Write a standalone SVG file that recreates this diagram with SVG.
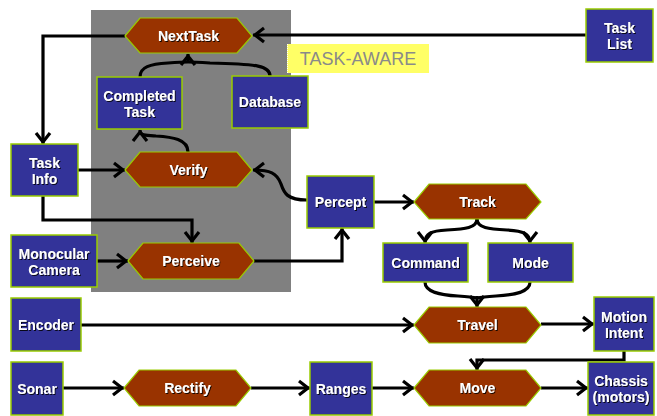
<svg xmlns="http://www.w3.org/2000/svg" width="657" height="416" viewBox="0 0 657 416">
<defs>
<style>
.box{fill:#333399;stroke:#99CC00;stroke-width:1.5}
.hex{fill:#993300;stroke:#99CC00;stroke-width:1.2}
.t{font-family:"Liberation Sans",Arial,sans-serif;font-weight:bold;font-size:14px;fill:#fff;text-anchor:middle;filter:url(#sh)}
.c{fill:none;stroke:#000;stroke-width:3.2}
</style>
<filter id="sh" x="-10%" y="-20%" width="130%" height="150%">
<feDropShadow dx="1" dy="1" stdDeviation="0.3" flood-color="#000" flood-opacity="0.85"/>
</filter>
<marker id="ar" viewBox="-14 -9 16 18" markerWidth="16" markerHeight="18" refX="0" refY="0" orient="auto" markerUnits="userSpaceOnUse">
<path d="M-11,-7 L-2,0 L-11,7" fill="none" stroke="#000" stroke-width="3.2"/>
</marker>
</defs>
<rect width="657" height="416" fill="#fff"/>
<rect id="task-aware-region" x="91" y="10" width="200" height="282" fill="#808080"/>
<g id="task-aware-label">
<rect x="287" y="44" width="142" height="29" fill="#FFFF66"/>
<line x1="287.5" y1="44" x2="287.5" y2="73" stroke="#fff" stroke-width="1" stroke-dasharray="1,1"/>
<text x="358" y="65" font-family="Liberation Sans,Arial,sans-serif" font-size="18" fill="#8a8a8a" text-anchor="middle">TASK-AWARE</text>
</g>
<g id="connectors">
<path class="c" d="M586,35 L253,35" marker-end="url(#ar)"/>
<path class="c" d="M125,36 L43,36 L43,144" marker-end="url(#ar)"/>
<path class="c" d="M140,77 C140,67 150,64 168,63 C182,62 188,62 188,62"/>
<path class="c" d="M270,76 C270,66 258,64 210,63 C194,62 188,62 188,62"/>
<path class="c" d="M188,63 L188,54" marker-end="url(#ar)"/>
<path class="c" d="M188,152 C188,139 172,137 156,136 C145,135 140,136 140,130" marker-end="url(#ar)"/>
<path class="c" d="M78,170 L125,170" marker-end="url(#ar)"/>
<path class="c" d="M43,196 L43,220 L192,220 L192,243" marker-end="url(#ar)"/>
<path class="c" d="M97,261 L128,261" marker-end="url(#ar)"/>
<path class="c" d="M254,261 L342,261 L342,228" marker-end="url(#ar)"/>
<path class="c" d="M307,200 C287,200 284,193 281,184 C277,173 270,170 253,170" marker-end="url(#ar)"/>
<path class="c" d="M374,202 L414,202" marker-end="url(#ar)"/>
<path class="c" d="M477,219 C477,228 465,229 447,230 C431,231 425,233 425,243" marker-end="url(#ar)"/>
<path class="c" d="M477,219 C477,228 489,229 507,230 C523,231 530,233 530,243" marker-end="url(#ar)"/>
<path class="c" d="M425,282 C425,292 440,295 458,296 C472,297 477,298 477,298"/>
<path class="c" d="M530,282 C530,292 515,295 496,296 C482,297 477,298 477,298"/>
<path class="c" d="M477,296 L477,307" marker-end="url(#ar)"/>
<path class="c" d="M81,325 L414,325" marker-end="url(#ar)"/>
<path class="c" d="M541,324 L594,324" marker-end="url(#ar)"/>
<path class="c" d="M624,351 L624,360 L477,360 L477,370" marker-end="url(#ar)"/>
<path class="c" d="M63,388 L124,388" marker-end="url(#ar)"/>
<path class="c" d="M251,388 L310,388" marker-end="url(#ar)"/>
<path class="c" d="M372,388 L414,388" marker-end="url(#ar)"/>
<path class="c" d="M541,388 L588,388" marker-end="url(#ar)"/>
</g>
<g id="nexttask"><polygon class="hex" points="125,36 140,18 237,18 252,36 237,53 140,53"/><text class="t" x="188.5" y="41">NextTask</text></g>
<g id="completed-task"><rect class="box" x="97" y="77" width="85" height="52"/><text class="t" x="139.5" y="101">Completed</text><text class="t" x="139.5" y="117">Task</text></g>
<g id="database"><rect class="box" x="232" y="76" width="76" height="52"/><text class="t" x="270" y="107">Database</text></g>
<g id="task-list"><rect class="box" x="586" y="9" width="67" height="53"/><text class="t" x="619.5" y="33">Task</text><text class="t" x="619.5" y="49">List</text></g>
<g id="task-info"><rect class="box" x="11" y="144" width="67" height="52"/><text class="t" x="44.5" y="168">Task</text><text class="t" x="44.5" y="184">Info</text></g>
<g id="verify"><polygon class="hex" points="125,170 140,152 237,152 252,170 237,187 140,187"/><text class="t" x="188.5" y="175">Verify</text></g>
<g id="monocular-camera"><rect class="box" x="11" y="235" width="86" height="52"/><text class="t" x="54" y="259">Monocular</text><text class="t" x="54" y="275">Camera</text></g>
<g id="perceive"><polygon class="hex" points="128,261 143,243 239,243 254,261 239,279 143,279"/><text class="t" x="191" y="266">Perceive</text></g>
<g id="percept"><rect class="box" x="307" y="176" width="67" height="52"/><text class="t" x="340.5" y="207">Percept</text></g>
<g id="track"><polygon class="hex" points="414,202 429,184 526,184 541,202 526,219 429,219"/><text class="t" x="477.5" y="207">Track</text></g>
<g id="command"><rect class="box" x="383" y="243" width="85" height="39"/><text class="t" x="425.5" y="268">Command</text></g>
<g id="mode"><rect class="box" x="488" y="243" width="85" height="39"/><text class="t" x="530.5" y="268">Mode</text></g>
<g id="encoder"><rect class="box" x="11" y="298" width="70" height="53"/><text class="t" x="46" y="330">Encoder</text></g>
<g id="travel"><polygon class="hex" points="414,325 429,307 526,307 541,325 526,343 429,343"/><text class="t" x="477.5" y="330">Travel</text></g>
<g id="motion-intent"><rect class="box" x="594" y="297" width="60" height="54"/><text class="t" x="624" y="322">Motion</text><text class="t" x="624" y="338">Intent</text></g>
<g id="sonar"><rect class="box" x="11" y="362" width="52" height="53"/><text class="t" x="37" y="394">Sonar</text></g>
<g id="rectify"><polygon class="hex" points="124,388 139,370 236,370 251,388 236,406 139,406"/><text class="t" x="187.5" y="393">Rectify</text></g>
<g id="ranges"><rect class="box" x="310" y="362" width="62" height="53"/><text class="t" x="341" y="394">Ranges</text></g>
<g id="move"><polygon class="hex" points="414,388 429,370 526,370 541,388 526,406 429,406"/><text class="t" x="477.5" y="393">Move</text></g>
<g id="chassis"><rect class="box" x="588" y="362" width="66" height="53"/><text class="t" x="621" y="386">Chassis</text><text class="t" x="621" y="402">(motors)</text></g>
</svg>
